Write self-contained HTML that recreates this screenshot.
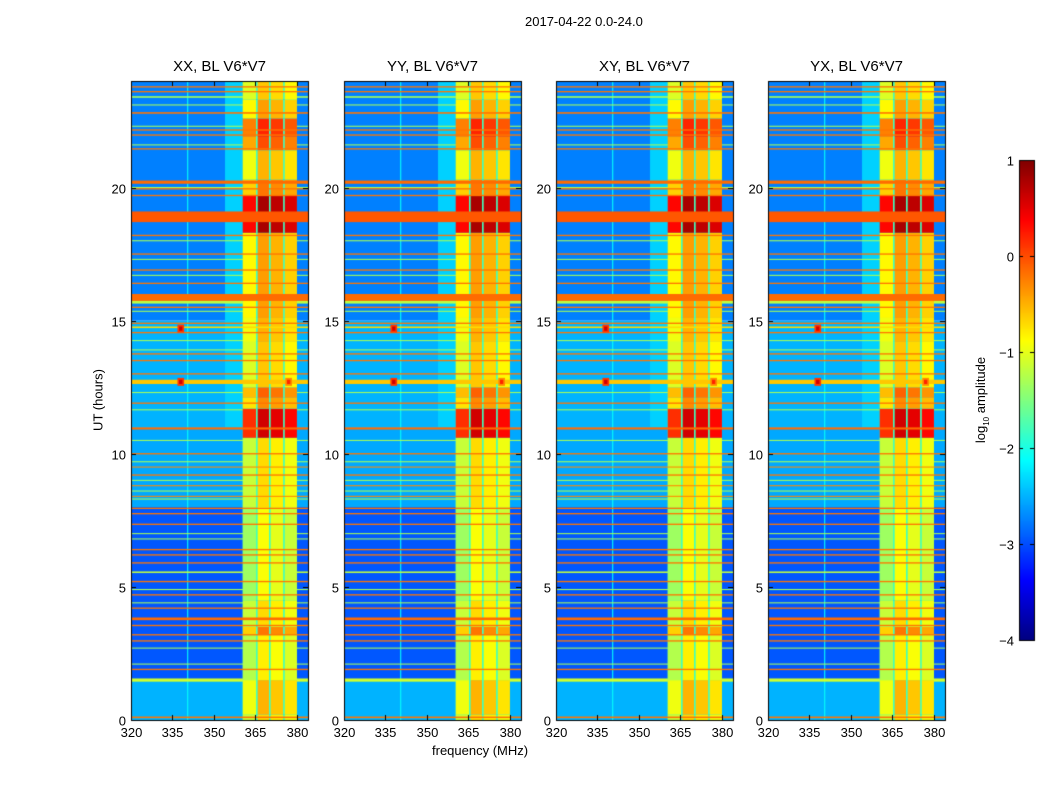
<!DOCTYPE html>
<html><head><meta charset="utf-8">
<style>
body{margin:0;background:#fff;width:1050px;height:800px;overflow:hidden;font-family:"Liberation Sans",sans-serif;}
#wrap{position:relative;width:1050px;height:800px;}
canvas{position:absolute;left:0;top:0;}
.t{position:absolute;color:#000;white-space:nowrap;}
.tk{font-size:13px;}
.ttl{font-size:15px;}
</style></head><body>
<div id="wrap">
<canvas id="cv" width="1050" height="800"></canvas>
<div class="t" style="left:525px;top:14px;font-size:13px;">2017-04-22 0.0-24.0</div>
<div class="t" style="left:98px;top:400px;font-size:13px;transform:translate(-50%,-50%) rotate(-90deg);">UT (hours)</div>
<div class="t" style="left:432px;top:743px;font-size:13px;">frequency (MHz)</div>
<div class="t" style="left:982px;top:400px;font-size:13px;transform:translate(-50%,-50%) rotate(-90deg);">log<sub style="font-size:8px">10</sub> amplitude</div>
<div id="labels"></div>
</div>
<script>
// ---- data ----
const panelTitles = ["XX, BL V6*V7","YY, BL V6*V7","XY, BL V6*V7","YX, BL V6*V7"];
const xTicks = [320,335,350,365,380];
const yTicks = [0,5,10,15,20];
const cbTicks = [1,0,-1,-2,-3,-4];
// background bands: [tStart, tEnd, log10 amplitude]
const bgBands = [[0,1.5,-2.5],[1.5,8,-2.95],[8,11,-2.55],[11,15,-2.5],[15,24,-2.75]];
// vertical lines in background: [freq, level]
const colLines = [[340.5,-2.1]];
// horizontal stripes: [tCenter, thickness, level]
const stripes = [
[23.78,0.05,-0.2],[23.6,0.05,-0.2],[22.8,0.06,-0.2],[22.16,0.05,-0.2],[21.97,0.05,-0.2],[21.45,0.05,-0.2],
[20.2,0.12,-0.15],[19.95,0.05,-0.2],[19.7,0.05,-0.2],[18.9,0.4,-0.05],[18.2,0.05,-0.2],[17.5,0.05,-0.2],
[16.9,0.05,-0.2],[16.4,0.05,-0.2],[15.87,0.26,-0.15],[15.5,0.05,-0.2],[14.9,0.05,-0.2],[14.75,0.06,-0.7],
[14.55,0.05,-0.2],[13.75,0.05,-0.2],[13.5,0.05,-0.2],[13.0,0.05,-0.2],[12.7,0.16,-0.6],[11.9,0.05,-0.2],
[10.95,0.08,-0.15],[10.0,0.05,-0.2],[9.5,0.04,-0.3],[9.2,0.05,-0.2],[8.8,0.04,-0.3],[8.4,0.04,-0.3],
[7.95,0.05,-0.2],[7.75,0.05,-0.2],[7.35,0.05,-0.2],[6.4,0.05,-0.2],[6.2,0.05,-0.2],[5.9,0.05,-0.2],
[5.2,0.05,-0.2],[4.7,0.05,-0.2],[4.2,0.05,-0.2],[3.8,0.1,-0.15],[3.55,0.05,-0.2],[3.2,0.05,-0.2],
[2.97,0.05,-0.2],[1.9,0.05,-0.2],[0.1,0.06,-0.2],
[23.4,0.06,-1.3],[23.1,0.04,-1.3],[22.3,0.04,-1.3],[21.6,0.04,-1.3],[20.0,0.04,-1.3],[18.0,0.04,-1.3],
[17.3,0.04,-1.3],[16.7,0.04,-1.3],[15.7,0.12,-1.2],[15.35,0.04,-1.3],[14.25,0.04,-1.3],[13.9,0.04,-1.3],
[12.3,0.04,-1.3],[11.65,0.04,-1.3],[10.5,0.04,-1.3],[9.7,0.04,-1.3],[9.0,0.04,-1.3],[8.6,0.04,-1.3],
[8.3,0.04,-1.3],[7.0,0.04,-1.3],[6.8,0.04,-1.3],[5.55,0.06,-1.2],[4.9,0.04,-1.3],[4.4,0.04,-1.3],
[2.7,0.04,-1.3],[2.1,0.04,-1.3],[1.5,0.12,-1.1]];
// RFI block time levels: [tStart, tEnd, level]
const rfiBands = [[0,0.2,-0.8],[0.2,1.5,-0.6],[1.5,3.2,-0.9],[3.2,3.5,-0.3],[3.5,4.5,-0.8],[4.5,8,-1.0],
[8,10.6,-0.8],[10.6,11.7,0.5],[11.7,12.1,-0.4],[12.1,12.5,-0.2],[12.5,14.2,-0.7],[14.2,15.1,-0.6],
[15.1,18.3,-0.5],[18.3,19.7,0.7],[19.7,20.3,-0.3],[20.3,21.4,-0.6],[21.4,21.9,-0.1],[21.9,22.6,0.1],
[22.6,23.3,-0.5],[23.3,24,-0.7]];
// RFI sub-bands: [fStart, fEnd, offset]
const subBands = [[360.4,365.2,-0.35],[365.8,369.9,0.1],[370.5,375.0,0.0],[375.6,380.0,-0.15]];
// bright spots: [t, f, level]
const spots = [[14.7,338,0.6],[12.7,338,0.6],[12.7,377,0.2]];

const panelLefts = [131,344,556,768];
const TOP=81, BOT=720, W=177, F0=320, F1=384, T1=24;
function jet(v){ // v in [-4,1]
  let x=(v+4)/5; x=Math.max(0,Math.min(1,x));
  const c=t=>Math.max(0,Math.min(1,1.5-Math.abs(4*x-t)));
  return `rgb(${Math.round(255*c(3))},${Math.round(255*c(2))},${Math.round(255*c(1))})`;
}
const cv=document.getElementById('cv'), ctx=cv.getContext('2d');
const lab=document.getElementById('labels');
function addLabel(txt,x,y,cls,align,name){
  const d=document.createElement('div');
  d.className='t '+cls; d.textContent=txt;
  d.style.left=x+'px'; d.style.top=y+'px';
  d.style.transform=align;
  
  
  lab.appendChild(d);
}
panelLefts.forEach((L,pi)=>{
  const xs=f=>L+(f-F0)/(F1-F0)*W;
  const ys=t=>BOT-(t/T1)*(BOT-TOP);
  const rect=(f0,f1,t0,t1,v)=>{ctx.fillStyle=jet(v);const y0=ys(t1),y1=ys(t0);ctx.fillRect(xs(f0),y0,xs(f1)-xs(f0),Math.max(1,y1-y0));};
  bgBands.forEach(b=>rect(F0,F1,b[0],b[1],b[2]));
  colLines.forEach(c=>rect(c[0]-0.2,c[0]+0.2,0,T1,c[1]));
  rect(354,360.4,11,24,-2.35);
  stripes.filter(s=>s[2]<-1).forEach(s=>rect(F0,F1,s[0]-s[1]/2,s[0]+s[1]/2,s[2]));
  rfiBands.forEach(r=>{
    rect(360.4,380,r[0],r[1],-1.8);
    subBands.forEach(sb=>rect(sb[0],sb[1],r[0],r[1],r[2]+sb[2]));
  });
  stripes.filter(s=>s[2]>=-1).forEach(s=>rect(F0,F1,s[0]-s[1]/2,s[0]+s[1]/2,s[2]));
  spots.forEach(s=>{rect(s[1]-1.2,s[1]+1.2,s[0]-0.15,s[0]+0.15,s[2]-0.5);rect(s[1]-0.6,s[1]+0.6,s[0]-0.08,s[0]+0.08,s[2]);});
  ctx.strokeStyle='#000';ctx.lineWidth=1;ctx.strokeRect(L+0.5,TOP+0.5,W,BOT-TOP);
  ctx.beginPath();
  xTicks.forEach(f=>{const x=Math.round(xs(f))+0.5;ctx.moveTo(x,BOT);ctx.lineTo(x,BOT-5);ctx.moveTo(x,TOP);ctx.lineTo(x,TOP+5);
    addLabel(String(f),x,BOT+5,'tk','translateX(-50%)','x-tick-label');});
  yTicks.forEach(t=>{const y=Math.round(ys(t))+0.5;ctx.moveTo(L,y);ctx.lineTo(L+5,y);ctx.moveTo(L+W,y);ctx.lineTo(L+W-5,y);
    addLabel(String(t),L-5,y,'tk','translate(-100%,-50%)','y-tick-label');});
  ctx.stroke();
  addLabel(panelTitles[pi],L+W/2,58,'ttl','translateX(-50%)','panel-title');
});
// colorbar
const CBX=1019,CBW=15,CBT=160,CBB=640;
const cbY=v=>CBB-(v+4)/5*(CBB-CBT);
for(let y=CBT;y<CBB;y++){const v=-4+(CBB-y)/(CBB-CBT)*5;ctx.fillStyle=jet(v);ctx.fillRect(CBX,y,CBW,1);}
ctx.strokeStyle='#000';ctx.strokeRect(CBX+0.5,CBT+0.5,CBW,CBB-CBT);
ctx.beginPath();
cbTicks.forEach(v=>{const y=Math.round(cbY(v))+0.5;ctx.moveTo(CBX,y);ctx.lineTo(CBX+4,y);ctx.moveTo(CBX+CBW,y);ctx.lineTo(CBX+CBW-4,y);
  addLabel(String(v).replace('-','\u2212'),CBX-5,y,'tk','translate(-100%,-50%)','colorbar-tick-label');});
ctx.stroke();
</script>
</body></html>
